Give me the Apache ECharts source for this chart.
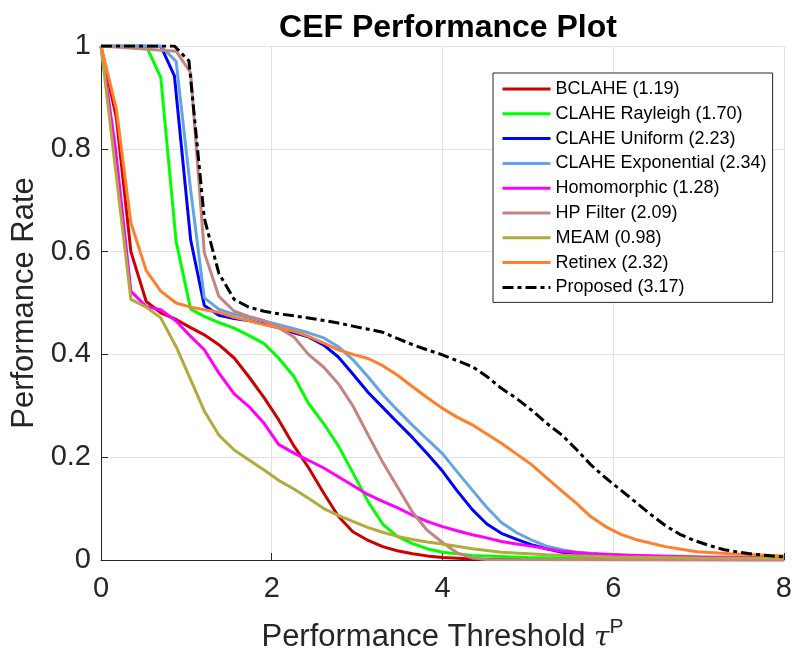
<!DOCTYPE html>
<html>
<head>
<meta charset="utf-8">
<script src="https://cdn.jsdelivr.net/npm/echarts@6/dist/echarts.min.js"></script>
<style>
  html, body { margin: 0; padding: 0; background: #fff; }
  #chart { width: 795px; height: 659px; }
</style>
</head>
<body>
<div id="chart"></div>
<script>
// Performance curves: [threshold, rate] pairs for each method
const bclahe = [[0,1],[0.18,0.86],[0.35,0.60],[0.53,0.503],[0.70,0.481],[0.88,0.468],[1.05,0.452],[1.21,0.438],[1.38,0.419],[1.56,0.393],[1.73,0.357],[1.91,0.316],[2.08,0.273],[2.26,0.222],[2.43,0.18],[2.61,0.13],[2.78,0.085],[2.95,0.055],[3.13,0.038],[3.30,0.026],[3.47,0.018],[3.65,0.012],[3.82,0.008],[4.0,0.005],[4.35,0.002],[5,0.001],[8,0]];
const claheRayleigh = [[0,1],[0.53,1],[0.70,0.939],[0.88,0.62],[1.05,0.488],[1.21,0.474],[1.38,0.462],[1.56,0.451],[1.73,0.437],[1.91,0.421],[2.08,0.393],[2.26,0.357],[2.43,0.305],[2.61,0.265],[2.78,0.222],[2.95,0.17],[3.13,0.113],[3.30,0.07],[3.47,0.046],[3.65,0.032],[3.82,0.022],[4.0,0.015],[4.35,0.009],[5,0.005],[6,0.003],[8,0.002]];
const claheUniform = [[0,1],[0.70,1],[0.86,0.942],[1.05,0.623],[1.21,0.495],[1.38,0.476],[1.56,0.470],[1.73,0.466],[1.91,0.459],[2.08,0.452],[2.26,0.442],[2.43,0.434],[2.61,0.418],[2.78,0.395],[2.95,0.362],[3.13,0.326],[3.30,0.297],[3.47,0.268],[3.65,0.238],[3.82,0.207],[4.0,0.173],[4.17,0.135],[4.35,0.098],[4.52,0.07],[4.69,0.052],[4.87,0.04],[5.04,0.03],[5.22,0.022],[5.4,0.015],[5.74,0.009],[6.5,0.005],[8,0.003]];
const claheExponential = [[0,1],[0.70,1],[0.88,0.97],[1.05,0.72],[1.21,0.51],[1.38,0.488],[1.56,0.478],[1.73,0.472],[1.91,0.465],[2.08,0.458],[2.26,0.450],[2.43,0.442],[2.61,0.432],[2.78,0.415],[2.95,0.39],[3.13,0.356],[3.30,0.322],[3.47,0.292],[3.65,0.262],[3.82,0.235],[4.0,0.207],[4.17,0.172],[4.35,0.136],[4.52,0.102],[4.69,0.073],[4.87,0.053],[5.04,0.039],[5.22,0.027],[5.4,0.02],[5.57,0.015],[5.82,0.012],[6.5,0.007],[8,0.004]];
const homomorphic = [[0,1],[0.17,0.80],[0.35,0.523],[0.53,0.493],[0.70,0.487],[0.88,0.465],[1.05,0.435],[1.21,0.409],[1.38,0.364],[1.56,0.323],[1.73,0.299],[1.91,0.266],[2.08,0.225],[2.26,0.208],[2.43,0.194],[2.61,0.179],[2.78,0.162],[2.95,0.145],[3.13,0.127],[3.30,0.114],[3.47,0.102],[3.65,0.087],[3.82,0.075],[4.0,0.065],[4.17,0.057],[4.35,0.049],[4.52,0.043],[4.69,0.036],[4.87,0.031],[5.04,0.027],[5.22,0.022],[5.4,0.017],[5.74,0.012],[6.2,0.009],[7,0.006],[8,0.005]];
const hpFilter = [[0,1],[0.88,0.99],[1.05,0.948],[1.21,0.598],[1.38,0.513],[1.56,0.484],[1.73,0.474],[1.91,0.466],[2.08,0.452],[2.26,0.434],[2.43,0.40],[2.61,0.375],[2.78,0.343],[2.95,0.30],[3.13,0.243],[3.30,0.19],[3.47,0.143],[3.65,0.093],[3.82,0.058],[4.0,0.034],[4.17,0.014],[4.35,0.004],[4.52,0.001],[8,0]];
const meam = [[0,1],[0.35,0.507],[0.53,0.492],[0.70,0.471],[0.88,0.415],[1.05,0.351],[1.21,0.29],[1.38,0.243],[1.56,0.214],[1.73,0.195],[1.91,0.175],[2.08,0.155],[2.26,0.138],[2.43,0.12],[2.61,0.10],[2.78,0.087],[2.95,0.075],[3.13,0.063],[3.30,0.054],[3.47,0.046],[3.65,0.04],[3.82,0.035],[4.0,0.031],[4.35,0.022],[4.69,0.015],[5.22,0.01],[6,0.006],[7,0.004],[8,0.003]];
const retinex = [[0,1],[0.18,0.877],[0.35,0.656],[0.53,0.563],[0.70,0.523],[0.88,0.500],[1.05,0.492],[1.21,0.487],[1.38,0.482],[1.56,0.472],[1.73,0.466],[1.91,0.458],[2.08,0.452],[2.26,0.445],[2.43,0.435],[2.61,0.422],[2.78,0.409],[2.95,0.40],[3.13,0.392],[3.30,0.378],[3.47,0.36],[3.65,0.337],[3.82,0.316],[4.0,0.295],[4.17,0.278],[4.35,0.263],[4.52,0.245],[4.69,0.227],[4.87,0.206],[5.04,0.186],[5.22,0.16],[5.4,0.134],[5.57,0.11],[5.74,0.084],[5.91,0.065],[6.09,0.05],[6.26,0.04],[6.61,0.026],[6.98,0.016],[7.37,0.012],[8,0.008]];
const proposed = [[0,1],[0.86,1],[1.03,0.971],[1.21,0.665],[1.38,0.558],[1.56,0.507],[1.73,0.492],[1.91,0.484],[2.08,0.479],[2.26,0.475],[2.43,0.471],[2.61,0.466],[2.78,0.461],[2.95,0.455],[3.13,0.449],[3.30,0.443],[3.47,0.431],[3.65,0.419],[3.82,0.409],[4.0,0.399],[4.17,0.388],[4.35,0.376],[4.52,0.357],[4.69,0.334],[4.87,0.314],[5.04,0.292],[5.22,0.266],[5.4,0.243],[5.57,0.215],[5.74,0.185],[5.91,0.16],[6.09,0.136],[6.26,0.113],[6.43,0.09],[6.61,0.067],[6.78,0.05],[6.95,0.038],[7.13,0.028],[7.3,0.02],[7.48,0.015],[7.65,0.011],[8,0.006]];

// Legend labels with the score of each method
const methodNames = ['BCLAHE (1.19)', 'CLAHE Rayleigh (1.70)', 'CLAHE Uniform (2.23)', 'CLAHE Exponential (2.34)',
  'Homomorphic (1.28)', 'HP Filter (2.09)', 'MEAM (0.98)', 'Retinex (2.32)', 'Proposed (3.17)'];
const methodData = [bclahe, claheRayleigh, claheUniform, claheExponential, homomorphic, hpFilter, meam, retinex, proposed];
const methodColors = ['#CC0000', '#00FF00', '#0000FF', '#62A4E6', '#FF00FF', '#C4847F', '#B3AA3C', '#FF7F2A', '#000000'];

const xTicks = { min: 0, max: 8, interval: 2 };
const yTicks = { min: 0, max: 1, interval: 0.2 };

const FONT = '"Liberation Sans", Arial, Helvetica, sans-serif';
const AXIS_COLOR = '#262626';

const series = methodNames.map((name, i) => ({
  name: name,
  type: 'line',
  data: methodData[i],
  symbol: 'none',
  smooth: false,
  animation: false,
  lineStyle: {
    color: methodColors[i],
    width: 3,
    type: i === methodNames.length - 1 ? [11, 4, 4, 4] : 'solid',
    cap: 'butt'
  },
  itemStyle: { color: methodColors[i] },
  z: 2 + i
}));

const chart = echarts.init(document.getElementById('chart'), null, { renderer: 'canvas' });
chart.setOption({
  backgroundColor: '#ffffff',
  animation: false,
  title: {
    text: 'CEF Performance Plot',
    left: 443,
    top: 7,
    textAlign: 'center',
    textStyle: { fontFamily: FONT, fontSize: 32, fontWeight: 'bold', color: '#000' }
  },
  grid: { left: 101, right: 9, top: 46, bottom: 99, containLabel: false },
  legend: {
    orient: 'vertical',
    left: 493,
    top: 73,
    data: methodNames,
    itemWidth: 48,
    itemHeight: 14,
    itemGap: 4.8,
    padding: [6, 6, 5, 8],
    borderColor: '#262626',
    borderWidth: 1,
    backgroundColor: '#ffffff',
    // line samples only: the marker dot is made transparent
    itemStyle: { color: 'rgba(0,0,0,0)', borderWidth: 0 },
    lineStyle: { width: 3 },
    textStyle: { fontFamily: FONT, fontSize: 18, color: '#000', lineHeight: 20 },
    z: 20
  },
  xAxis: {
    type: 'value',
    min: xTicks.min, max: xTicks.max, interval: xTicks.interval,
    axisLine: { show: true, onZero: false, lineStyle: { color: AXIS_COLOR, width: 1 } },
    axisTick: { show: true, inside: true, length: 7, lineStyle: { color: AXIS_COLOR } },
    axisLabel: { fontFamily: FONT, fontSize: 29, color: AXIS_COLOR, margin: 14 },
    splitLine: { show: true, lineStyle: { color: '#e2e2e2', width: 1 } },
    name: '{a|Performance Threshold }{t|τ}{s|P}',
    nameLocation: 'middle',
    nameGap: 57,
    nameTextStyle: {
      fontFamily: FONT, color: AXIS_COLOR,
      rich: {
        a: { fontFamily: FONT, fontSize: 31, color: AXIS_COLOR, lineHeight: 36, verticalAlign: 'bottom' },
        t: { fontFamily: '"DejaVu Serif", serif', fontStyle: 'italic', fontSize: 28, color: AXIS_COLOR, lineHeight: 36, verticalAlign: 'bottom' },
        s: { fontFamily: FONT, fontSize: 21, color: AXIS_COLOR, lineHeight: 36, verticalAlign: 'top' }
      }
    }
  },
  yAxis: {
    type: 'value',
    min: yTicks.min, max: yTicks.max, interval: yTicks.interval,
    axisLine: { show: true, lineStyle: { color: AXIS_COLOR, width: 1 } },
    axisTick: { show: true, inside: true, length: 7, lineStyle: { color: AXIS_COLOR } },
    axisLabel: { fontFamily: FONT, fontSize: 29, color: AXIS_COLOR, margin: 10 },
    splitLine: { show: true, lineStyle: { color: '#e2e2e2', width: 1 } },
    name: 'Performance Rate',
    nameLocation: 'middle',
    nameGap: 51,
    nameTextStyle: { fontFamily: FONT, fontSize: 31, color: AXIS_COLOR }
  },
  series: series
});
</script>
</body>
</html>
